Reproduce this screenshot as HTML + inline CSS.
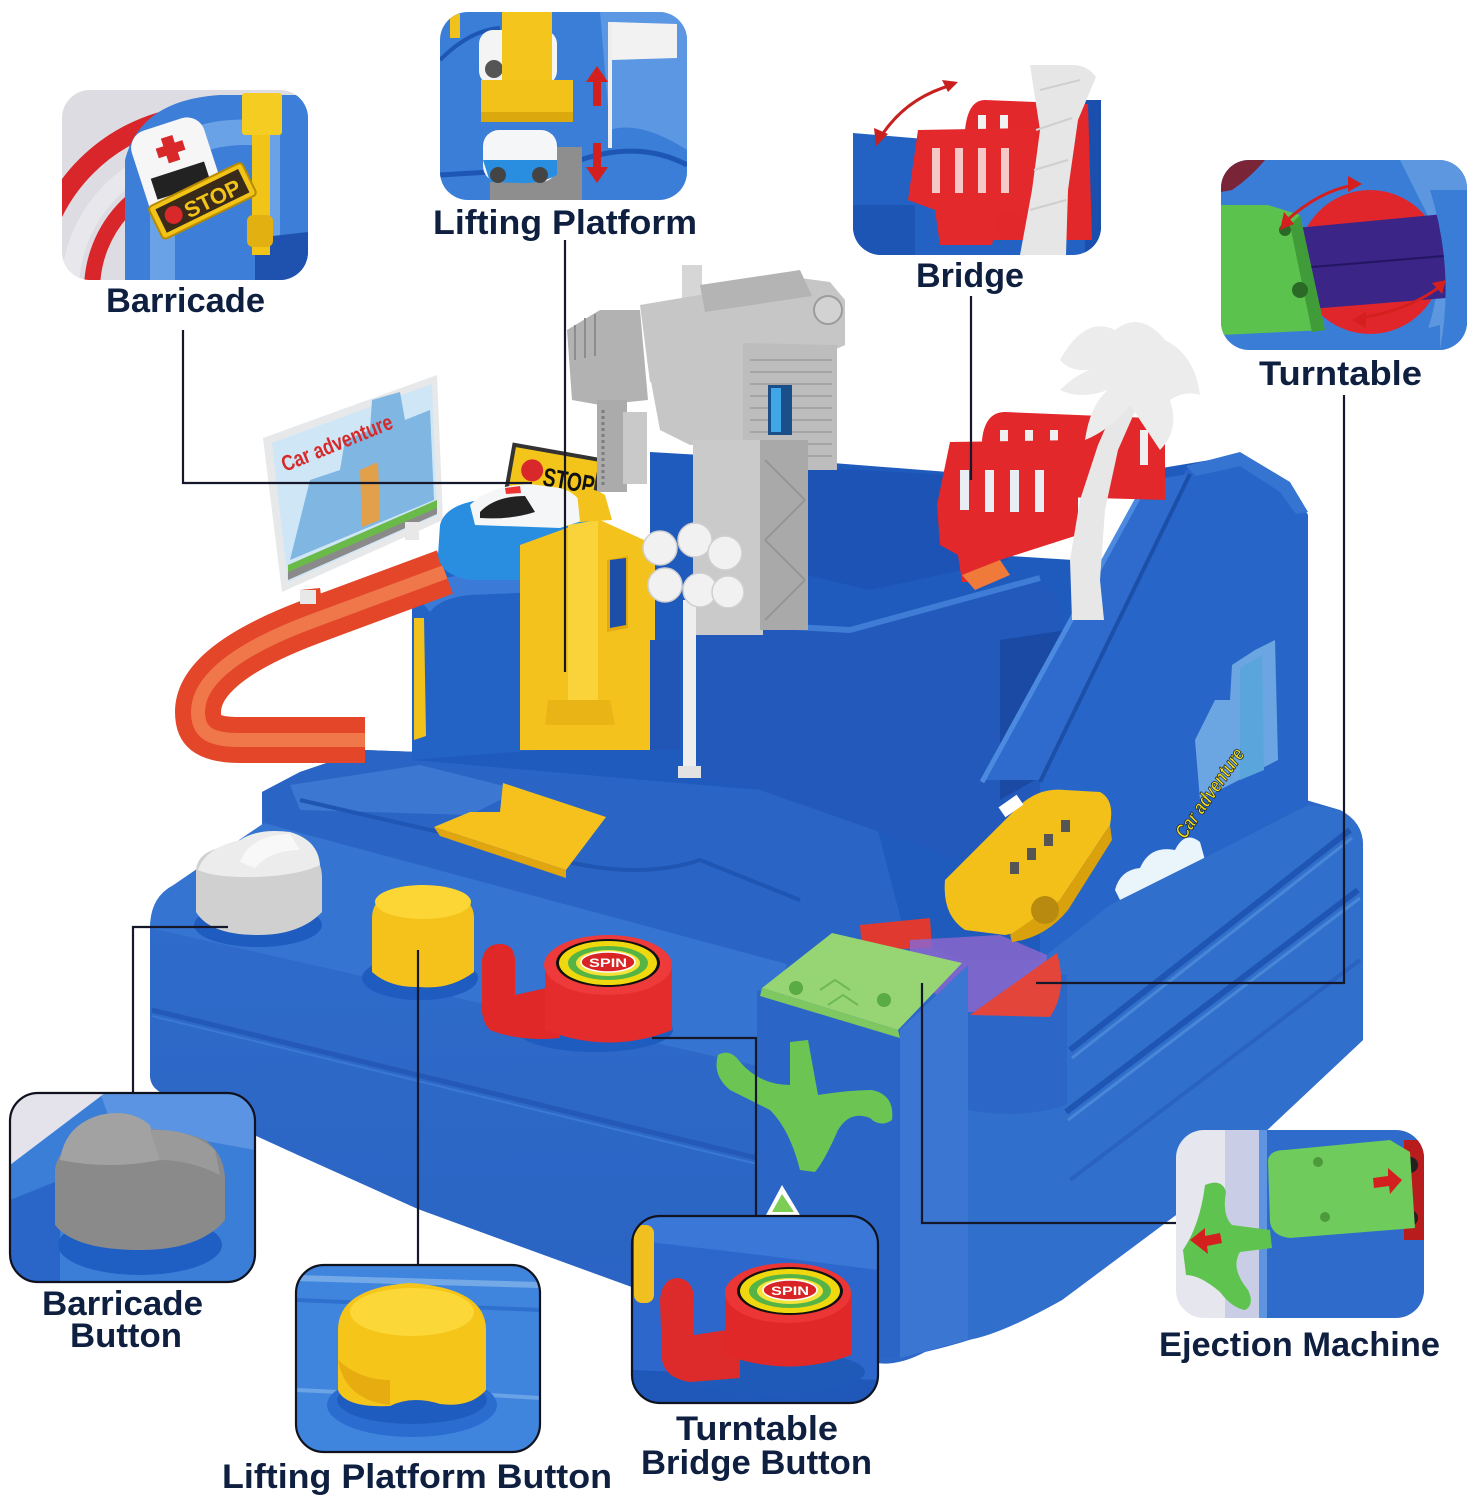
<!DOCTYPE html>
<html><head><meta charset="utf-8">
<style>
html,body{margin:0;padding:0;background:#fff;}
svg{display:block;}
.lb{font-family:"Liberation Sans",Arial,sans-serif;font-weight:bold;fill:#0e1f40;font-size:34px;}
</style></head><body>
<svg width="1480" height="1500" viewBox="0 0 1480 1500" xmlns="http://www.w3.org/2000/svg">
<defs>
<clipPath id="c1"><rect x="62" y="90" width="246" height="190" rx="28"/></clipPath>
<clipPath id="c2"><rect x="440" y="12" width="247" height="188" rx="28"/></clipPath>
<clipPath id="c3"><rect x="853" y="65" width="248" height="190" rx="28"/></clipPath>
<clipPath id="c4"><rect x="1221" y="160" width="246" height="190" rx="28"/></clipPath>
<clipPath id="c5"><rect x="10" y="1093" width="245" height="189" rx="28"/></clipPath>
<clipPath id="c6"><rect x="296" y="1265" width="244" height="187" rx="28"/></clipPath>
<clipPath id="c7"><rect x="632" y="1216" width="246" height="187" rx="28"/></clipPath>
<clipPath id="c8"><rect x="1176" y="1130" width="248" height="188" rx="28"/></clipPath>
<linearGradient id="gBase" x1="0" y1="0" x2="0" y2="1"><stop offset="0" stop-color="#2f6bca"/><stop offset="1" stop-color="#2a63c2"/></linearGradient>
</defs>

<!-- ================= MAIN TOY ================= -->
<!-- base silhouette -->
<path fill="#2d68c8" d="M150,930 Q150,898 172,886 L262,856 L262,792 L300,772 L365,750 L420,752 L760,790 L1306,800 L1340,810 Q1363,822 1363,845 L1363,1040 L1180,1212 L1062,1300 Q1000,1335 925,1352 Q895,1368 870,1362 L640,1290 L418,1209 L298,1155 L160,1092 Q150,1086 150,1075 Z"/>
<!-- front-left face -->
<path fill="url(#gBase)" d="M150,928 L757,1066 L757,1350 L640,1290 L418,1209 L298,1155 L160,1092 Q150,1086 150,1075 Z"/>
<path d="M152,1010 L757,1158" stroke="#2459b7" stroke-width="5" fill="none"/>
<path d="M152,1016 L757,1164" stroke="#3a78d4" stroke-width="2" fill="none"/>
<!-- ledge surface -->
<path fill="#3574d1" d="M150,928 Q150,898 172,886 L264,823 L787,964 L757,1066 Z"/>
<!-- middle tier -->
<path fill="#2a64c5" d="M262,792 L300,772 L365,750 L420,752 L760,790 L870,800 L905,935 L787,964 L264,823 Z"/>
<path fill="#4a86da" opacity="0.55" d="M290,785 L420,765 L520,790 L470,815 L300,810 Z"/>
<path d="M300,800 L560,860 Q640,880 700,860 L800,900" stroke="#1f56b3" stroke-width="4" fill="none"/>
<!-- yellow ramp piece -->
<path fill="#f6c11c" d="M503,783 L606,817 L566,870 L434,827 L470,812 L500,812 Z"/>
<path fill="#e0a50f" d="M434,827 L566,870 L566,878 L440,836 Z"/>

<!-- upper block -->
<path fill="#1f5abd" d="M412,760 L412,600 Q414,566 448,558 L560,552 L650,548 L650,452 L820,462 L1000,476 L1010,556 L1105,562 L1150,470 L1240,455 L1290,485 L1308,515 L1308,805 L1060,960 L960,960 L905,935 L870,800 L760,790 Z"/>
<!-- left cylinder of upper block -->
<path fill="#2463c6" d="M412,760 L412,600 Q414,566 448,558 L540,556 L540,750 Z"/>
<path fill="#3b7ad6" d="M420,600 Q430,575 470,575 L540,572 L540,592 L470,595 Q440,598 430,612 Z"/>
<path fill="#f2c21c" d="M414,618 L424,618 L426,736 L414,740 Z"/>
<!-- back wall -->
<path fill="#1d53b4" d="M807,467 L1000,478 L1008,560 L870,590 L807,575 Z"/>
<!-- well front wall -->
<path fill="#2259bb" d="M700,625 L850,632 L1040,582 L1060,600 L1040,800 L960,860 L760,790 L700,780 Z"/>
<path d="M700,622 L850,630 L1040,578" stroke="#3f7cd6" stroke-width="6" fill="none"/>
<path fill="#1a4aa3" d="M1000,640 L1100,625 L1070,760 L1000,800 Z"/>
<!-- right raised section -->
<path fill="#2766c8" d="M1186,470 L1240,455 L1290,485 L1308,515 L1308,805 L1200,860 L1110,905 L1040,960 L1040,780 Z"/>
<path fill="#2e6bcc" d="M1148,480 L1190,474 L1040,780 L982,780 Z"/>
<path d="M1148,480 L982,782" stroke="#4c8ae0" stroke-width="5" fill="none"/>
<path d="M1190,474 L1040,782" stroke="#1c4fa8" stroke-width="4" fill="none"/>
<path fill="#3574d0" d="M1186,466 L1240,452 L1290,482 L1308,512 L1296,514 L1280,492 L1240,466 L1196,476 Z"/>
<!-- decal -->
<path fill="#7db5e8" opacity="0.8" d="M1195,740 L1215,700 L1230,700 L1232,665 L1255,650 L1275,640 L1278,760 L1200,800 Z"/>
<path fill="#5aa6dc" d="M1240,668 L1262,655 L1264,770 L1240,780 Z"/>
<path fill="#eaf4fb" d="M1115,890 Q1120,870 1140,868 Q1150,845 1175,850 Q1185,830 1200,842 L1205,860 L1120,900 Z"/>
<text x="0" y="0" transform="translate(1185,840) rotate(-55)" font-family="Liberation Sans,Arial,sans-serif" font-weight="bold" font-style="italic" font-size="20" fill="#f4e21a" stroke="#222" stroke-width="0.8" textLength="105" lengthAdjust="spacingAndGlyphs">Car adventure</text>

<!-- base right face -->
<path fill="#3070cc" d="M1040,960 L1110,905 L1200,860 L1308,805 L1340,810 Q1363,822 1363,845 L1363,1040 L1180,1212 L1062,1300 Q1000,1335 968,1340 L968,1000 Z"/>
<path d="M1070,1050 L1350,830" stroke="#1f56b3" stroke-width="6" fill="none"/>
<path d="M1072,1058 L1352,838" stroke="#4a86d8" stroke-width="3" fill="none"/>
<path d="M1066,1112 L1358,890" stroke="#1f56b3" stroke-width="6" fill="none"/>
<path d="M1068,1120 L1360,898" stroke="#4a86d8" stroke-width="3" fill="none"/>
<path d="M1070,1180 L1360,960" stroke="#2a62c2" stroke-width="4" fill="none"/>
<!-- turntable cylinder -->
<path fill="#2c67c8" d="M968,975 L1067,975 L1067,1105 Q1020,1120 968,1110 Z"/>
<path fill="#e0392f" d="M860,925 L930,918 L932,948 L862,950 Z"/>
<path fill="#8a66cc" opacity="0.85" d="M910,940 L1000,935 L1047,955 L1040,1012 L960,1012 L910,975 Z"/>
<path fill="#e4453a" d="M970,1015 L1057,953 Q1068,990 1050,1017 Z"/>

<!-- front column -->
<path fill="#2b66c6" d="M757,990 L900,1030 L900,1358 L757,1352 Z"/>
<path fill="#3a76d2" d="M900,1030 L968,965 L968,1340 L900,1358 Z"/>
<path fill="#97d474" d="M762,988 L832,933 L962,963 L898,1030 Z"/>
<path fill="#7fc760" d="M762,988 L898,1030 L900,1038 L760,996 Z"/>
<circle cx="796" cy="988" r="7" fill="#5aaa45"/>
<circle cx="884" cy="1000" r="7" fill="#5aaa45"/>
<path d="M820,990 l15,-10 l15,10 M828,1005 l15,-10 l15,10" stroke="#6fb858" stroke-width="2" fill="none"/>
<!-- green hook -->
<path fill="#6cc553" d="M790,1042 L808,1040 L818,1095 Q850,1090 872,1090 Q895,1095 892,1120 Q880,1128 870,1118 Q850,1110 838,1130 Q825,1160 815,1172 L800,1170 Q790,1130 770,1110 Q740,1095 730,1090 Q712,1075 718,1055 Q730,1048 740,1062 Q760,1085 790,1085 Z"/>
<path fill="#fff" d="M766,1215 L782,1185 L800,1215 Z"/>
<path fill="#7dcc55" d="M772,1212 L782,1194 L794,1212 Z"/>

<!-- orange track -->
<path d="M445,572 L310,622 C225,654 198,685 198,712 C198,734 212,740 240,740 L365,740" stroke="#e4462a" stroke-width="46" fill="none" stroke-linejoin="round"/>
<path d="M445,572 L310,622 C225,654 198,685 198,712 C198,734 212,740 240,740 L365,740" stroke="#f0774a" stroke-width="14" fill="none"/>
<path fill="#e4462a" d="M300,590 L320,588 L322,602 L302,604 Z"/>

<!-- billboard -->
<path fill="#e6e8ea" d="M263,438 L437,375 L443,520 L282,592 Z"/>
<path fill="#cfe6f6" d="M272,443 L432,384 L437,515 L288,582 Z"/>
<path fill="#7fb6e2" d="M300,520 L310,480 L340,470 L345,440 L370,430 L372,400 L400,392 L405,420 L430,410 L434,500 L290,560 Z"/>
<path fill="#e3a04a" d="M360,470 L378,462 L380,520 L362,527 Z"/>
<path fill="#6aba4a" d="M288,565 L437,500 L437,512 L288,578 Z"/>
<path fill="#8a8a8a" d="M288,572 L437,508 L437,514 L288,580 Z"/>
<text x="0" y="0" transform="translate(285,472) rotate(-22)" font-family="Liberation Sans,Arial,sans-serif" font-weight="bold" font-size="22" fill="#d62a2a" textLength="118" lengthAdjust="spacingAndGlyphs">Car adventure</text>
<rect x="300" y="590" width="16" height="14" fill="#e8e8e8"/>
<rect x="405" y="522" width="14" height="18" fill="#e8e8e8"/>

<!-- stop sign -->
<g transform="rotate(10 553 473)">
<rect x="508" y="450" width="92" height="48" fill="#333"/>
<rect x="512" y="454" width="84" height="40" fill="#f3c51a"/>
<circle cx="532" cy="474" r="11" fill="#d8282a"/>
<text x="544" y="487" font-family="Liberation Sans,Arial,sans-serif" font-weight="bold" font-size="26" fill="#111" textLength="52" lengthAdjust="spacingAndGlyphs">STOP</text>
</g>
<!-- police car -->
<path fill="#2a8ee0" d="M440,525 Q445,505 480,500 L560,495 Q590,500 592,530 L590,560 Q585,580 565,580 L470,580 Q440,575 438,555 Z"/>
<path fill="#f4f6f8" d="M470,505 Q490,485 530,484 L560,488 Q585,495 585,520 L560,528 L475,525 Z"/>
<path fill="#222" d="M480,512 Q495,496 525,496 L535,512 Q510,520 480,518 Z"/>
<path fill="#e33" d="M505,488 L520,486 L521,493 L506,494 Z"/>
<circle cx="548" cy="556" r="18" fill="#333"/><circle cx="548" cy="556" r="10" fill="#ccc"/>
<circle cx="578" cy="545" r="14" fill="#333"/>

<!-- crane -->
<rect x="682" y="265" width="20" height="40" fill="#d6d6d6"/>
<path fill="#c6c6c6" d="M640,305 L800,278 L830,282 L845,300 L845,345 L830,352 L650,382 Z"/>
<path fill="#b4b4b4" d="M700,285 L800,270 L812,296 L705,312 Z"/>
<circle cx="828" cy="310" r="14" fill="#d2d2d2" stroke="#9c9c9c" stroke-width="2"/>
<path fill="#b2b2b2" d="M567,330 L600,310 L640,310 L648,400 L600,405 L572,400 Z"/>
<path d="M575,325 l0,35 M585,318 l0,40 M595,314 l0,42" stroke="#8d8d8d" stroke-width="2"/>
<rect x="597" y="400" width="30" height="92" fill="#ababab"/>
<path d="M603,410 l0,75" stroke="#7d7d7d" stroke-width="3" stroke-dasharray="3 3"/>
<rect x="623" y="412" width="24" height="72" fill="#c9c9c9"/>
<path fill="#c6c6c6" d="M647,360 L745,345 L745,440 L690,445 L660,430 Z"/>
<path fill="#bdbdbd" d="M743,343 L837,345 L837,470 L743,470 Z"/>
<path d="M750,360 H832 M750,372 H832 M750,384 H832 M750,396 H832 M750,408 H832 M750,420 H832 M750,432 H832 M750,444 H832 M750,456 H832" stroke="#a4a4a4" stroke-width="2"/>
<rect x="768" y="385" width="24" height="50" fill="#1a4f8a"/>
<rect x="771" y="388" width="10" height="44" fill="#3fa6e8"/>
<rect x="693" y="440" width="70" height="195" fill="#cacaca"/>
<rect x="760" y="440" width="48" height="190" fill="#a9a9a9"/>
<path d="M765,460 L805,500 M805,500 L765,540 M765,540 L805,580 M805,580 L765,620" stroke="#959595" stroke-width="2" fill="none"/>

<!-- yellow lift -->
<path fill="#f4c21c" d="M520,545 L575,525 L600,520 L655,545 L655,750 L520,750 Z"/>
<path fill="#e2a912" d="M607,560 L628,556 L628,628 L607,632 Z"/>
<path fill="#1d4fa8" d="M610,560 L626,558 L626,625 L610,628 Z"/>
<path fill="#2256b6" d="M650,640 L680,640 L680,750 L650,750 Z"/>
<path fill="#fad23a" d="M568,525 L598,520 L598,720 L568,720 Z"/>
<path fill="#e9b416" d="M548,700 L610,700 L615,725 L545,725 Z"/>
<path fill="#f4c21c" d="M577,492 Q590,485 605,495 L612,520 L580,522 Z"/>
<!-- lamp -->
<rect x="683" y="600" width="13" height="176" fill="#eeeeee"/>
<rect x="678" y="766" width="23" height="12" fill="#e2e2e2"/>
<g fill="#f1f1f1" stroke="#cfcfcf" stroke-width="1.5">
<circle cx="660" cy="548" r="17"/><circle cx="695" cy="540" r="17"/><circle cx="725" cy="553" r="17"/>
<circle cx="665" cy="585" r="17"/><circle cx="700" cy="590" r="17"/><circle cx="728" cy="592" r="16"/>
</g>

<!-- red bridge -->
<path fill="#e2282b" d="M982,440 Q985,412 1005,412 L1150,418 Q1165,420 1165,440 L1165,500 L990,495 Z"/>
<g fill="#f0f0f0"><rect x="1000" y="430" width="8" height="35"/><rect x="1025" y="430" width="8" height="35"/><rect x="1050" y="430" width="8" height="35"/><rect x="1140" y="430" width="8" height="35"/></g>
<path fill="#e2282b" d="M937,505 L950,442 L1078,440 L1078,535 L1000,560 L985,582 L962,582 L958,555 L940,545 Z"/>
<g fill="#e9eef5"><rect x="960" y="470" width="9" height="40"/><rect x="985" y="470" width="9" height="42"/><rect x="1010" y="470" width="9" height="42"/><rect x="1035" y="470" width="9" height="42"/></g>
<path fill="#f07a3a" d="M962,575 L1000,560 L1010,575 L975,590 Z"/>
<!-- palm tree -->
<path fill="#e7e7e7" d="M1072,620 L1070,560 L1080,500 L1098,445 L1120,395 L1140,400 L1118,450 L1105,510 L1100,580 L1104,620 Z"/>
<path fill="#ececec" d="M1060,360 Q1085,315 1115,330 Q1140,310 1165,340 Q1195,355 1200,395 Q1185,390 1170,400 Q1180,430 1160,450 Q1140,420 1130,405 Q1110,430 1085,440 Q1090,405 1108,390 Q1080,400 1060,390 Q1075,375 1090,370 Q1070,372 1060,360 Z"/>

<!-- bus -->
<path fill="#f3c01a" d="M945,880 L1020,805 Q1040,787 1065,790 L1100,792 Q1115,800 1110,825 L1060,900 Q1040,930 1005,935 L965,930 Q942,915 945,880 Z"/>
<path fill="#d9a10c" d="M1010,935 L1060,900 L1110,825 L1112,840 L1068,910 Q1045,938 1012,942 Z"/>
<rect x="1000" y="800" width="22" height="12" fill="#fff" transform="rotate(-35 1011 806)"/>
<g fill="#555"><rect x="1010" y="862" width="9" height="12"/><rect x="1027" y="848" width="9" height="12"/><rect x="1044" y="834" width="9" height="12"/><rect x="1061" y="820" width="9" height="12"/></g>
<circle cx="1045" cy="910" r="14" fill="#b88a10"/>

<!-- knobs -->
<ellipse cx="258" cy="925" rx="64" ry="22" fill="#1f5cbf"/>
<path fill="#d0d0d0" d="M196,872 Q196,850 230,846 L290,846 Q322,850 322,878 L322,912 Q300,935 258,935 Q210,935 196,912 Z"/>
<path fill="#ececec" d="M198,870 Q205,848 240,840 Q258,828 290,832 Q318,840 320,865 Q300,875 258,877 Q215,878 198,870 Z"/>
<path fill="#f8f8f8" d="M240,862 Q250,835 290,834 L300,850 Q270,850 255,868 Z"/>

<ellipse cx="420" cy="978" rx="58" ry="22" fill="#1f5cbf"/>
<path fill="#f4c21a" d="M372,918 Q372,890 420,885 Q474,890 474,918 L474,972 Q450,990 420,987 Q390,988 372,972 Z"/>
<ellipse cx="423" cy="902" rx="48" ry="17" fill="#fbd634"/>

<ellipse cx="595" cy="1030" rx="78" ry="22" fill="#1f5cbf"/>
<path fill="#e02828" d="M482,960 Q485,944 500,944 Q515,944 515,962 L515,995 L560,985 L560,1038 Q520,1042 490,1030 Q480,1020 482,1000 Z"/>
<path fill="#e42c2c" d="M545,965 L672,965 L672,1030 Q610,1055 545,1030 Z"/>
<ellipse cx="608" cy="965" rx="64" ry="30" fill="#ee3a3a"/>
<ellipse cx="608" cy="963" rx="52" ry="24" fill="#111"/>
<ellipse cx="608" cy="963" rx="49" ry="22" fill="#f0d80e"/>
<ellipse cx="608" cy="963" rx="40" ry="17" fill="#56b445"/>
<ellipse cx="608" cy="963" rx="32" ry="13" fill="#f3e33a"/>
<ellipse cx="608" cy="962" rx="27" ry="10" fill="#d82424" stroke="#fff" stroke-width="1.5"/>
<text x="589" y="967" font-family="Liberation Sans,Arial,sans-serif" font-weight="bold" font-size="12" fill="#fff" textLength="38" lengthAdjust="spacingAndGlyphs">SPIN</text>

<!-- ================= CONNECTOR LINES ================= -->
<g stroke="#14182a" stroke-width="2.2" fill="none">
<path d="M183,330 V483 H532"/>
<path d="M565,240 V672"/>
<path d="M971,296 V480"/>
<path d="M1344,395 V983 H1036"/>
<path d="M228,927 H133 V1093"/>
<path d="M418,950 V1265"/>
<path d="M652,1038 H756 V1216"/>
<path d="M922,983 V1223 H1176"/>
</g>

<!-- ================= INSETS ================= -->
<!-- Barricade -->
<g clip-path="url(#c1)">
<rect x="62" y="90" width="246" height="190" fill="#dcdce2"/>
<circle cx="210" cy="290" r="175" fill="none" stroke="#d8262b" stroke-width="20"/>
<circle cx="210" cy="290" r="140" fill="none" stroke="#e8e8ec" stroke-width="18"/>
<circle cx="210" cy="290" r="118" fill="none" stroke="#d8262b" stroke-width="16"/>
<path fill="#3d7fd8" d="M125,280 L125,160 Q140,100 220,95 L308,95 L308,280 Z"/>
<path fill="#69a2e6" d="M150,280 L150,170 Q165,125 230,120 L280,118 L280,280 Z"/>
<path fill="#3d7fd8" d="M175,280 L175,180 Q185,148 240,145 L260,145 L260,280 Z"/>
<path fill="#1e52ae" d="M255,238 L308,232 L308,280 L255,280 Z"/>
<g transform="rotate(-18 178 172)">
<rect x="140" y="122" width="76" height="102" rx="18" fill="#f6f6f6"/>
<rect x="150" y="170" width="56" height="22" fill="#222"/>
<path d="M172,135 h12 v8 h8 v10 h-8 v8 h-12 v-8 h-8 v-10 h8 z" fill="#d8282a"/>
</g>
<rect x="252" y="130" width="18" height="125" fill="#f2c418"/>
<rect x="242" y="93" width="40" height="42" rx="3" fill="#f5cc22"/>
<rect x="247" y="215" width="26" height="32" rx="6" fill="#e2b010"/>
<g transform="rotate(-26 202 200)">
<rect x="150" y="183" width="104" height="36" rx="4" fill="#f2c418" stroke="#b88a00" stroke-width="2"/>
<rect x="156" y="188" width="92" height="26" fill="#3a2a1a"/>
<circle cx="170" cy="201" r="9" fill="#d8282a"/>
<text x="182" y="211" font-family="Liberation Sans,Arial,sans-serif" font-weight="bold" font-size="22" fill="#f2c418" textLength="60" lengthAdjust="spacingAndGlyphs">STOP</text>
</g>
</g>

<!-- Lifting Platform -->
<g clip-path="url(#c2)">
<rect x="440" y="12" width="247" height="188" fill="#3a7ed7"/>
<path fill="#5b97e2" d="M600,12 L687,12 L687,150 Q640,120 610,130 Z"/>
<path d="M440,60 Q470,30 500,28" stroke="#1e56b5" stroke-width="4" fill="none"/>
<path d="M580,160 Q640,140 687,165" stroke="#1e56b5" stroke-width="5" fill="none"/>
<path d="M440,175 L490,172" stroke="#1e56b5" stroke-width="5"/>
<rect x="450" y="14" width="10" height="24" fill="#f2c21c"/>
<rect x="479" y="30" width="78" height="55" rx="14" fill="#f4f4f4"/>
<rect x="485" y="60" width="18" height="18" rx="9" fill="#555"/>
<rect x="502" y="12" width="50" height="90" fill="#f4c51c"/>
<rect x="481" y="80" width="92" height="42" fill="#f2c21a"/>
<rect x="481" y="112" width="92" height="10" fill="#dba80e"/>
<rect x="490" y="147" width="92" height="53" fill="#8e8e8e"/>
<rect x="483" y="130" width="74" height="52" rx="16" fill="#f4f6f8"/>
<path fill="#2a8ee0" d="M483,160 L557,160 L557,175 Q540,184 520,183 L490,182 Z"/>
<circle cx="498" cy="175" r="8" fill="#444"/><circle cx="540" cy="175" r="8" fill="#444"/>
<path fill="#d41f1f" d="M597,66 L608,82 L601,82 L601,106 L593,106 L593,82 L586,82 Z"/>
<path fill="#d41f1f" d="M597,183 L608,167 L601,167 L601,143 L593,143 L593,167 L586,167 Z"/>
<rect x="608" y="22" width="4" height="126" fill="#eeeeee"/>
<path fill="#f2f2f2" d="M612,22 L677,24 L677,58 L612,60 Z"/>
</g>

<!-- Bridge -->
<g clip-path="url(#c3)">
<rect x="853" y="65" width="248" height="190" fill="#ffffff"/>
<path fill="#2361c2" d="M853,133 L960,142 L1101,142 L1101,255 L853,255 Z"/>
<path fill="#1c55b4" d="M853,205 L915,205 L915,255 L853,255 Z"/>
<path fill="#1b4fae" d="M1085,100 L1101,100 L1101,255 L1085,255 Z"/>
<path fill="#e2282b" d="M965,130 Q968,100 985,100 L1088,104 L1092,240 L970,240 Z"/>
<g fill="#f3f3f3"><rect x="978" y="115" width="8" height="40"/><rect x="1000" y="115" width="8" height="40"/><rect x="1060" y="115" width="8" height="40"/></g>
<path fill="#e3292c" d="M908,200 L918,130 L1035,128 L1035,205 L998,215 L992,245 L940,245 L935,210 Z"/>
<g fill="#f6c8c8"><rect x="932" y="148" width="8" height="45"/><rect x="955" y="148" width="8" height="45"/><rect x="978" y="148" width="8" height="45"/><rect x="1001" y="148" width="8" height="45"/></g>
<path fill="#e6e6e6" d="M1020,255 L1032,190 L1040,130 L1030,65 L1101,65 L1078,120 L1068,190 L1066,255 Z"/>
<path d="M1040,90 L1080,80 M1036,130 L1072,118 M1034,170 L1068,160 M1030,210 L1066,200" stroke="#cfcfcf" stroke-width="2"/>
<path d="M880,138 Q905,98 952,85" stroke="#c81f1f" stroke-width="3" fill="none"/>
<path fill="#c81f1f" d="M876,146 L874,128 L888,134 Z"/>
<path fill="#c81f1f" d="M958,82 L942,80 L948,92 Z"/>
</g>

<!-- Turntable -->
<g clip-path="url(#c4)">
<rect x="1221" y="160" width="246" height="190" fill="#3a7dd6"/>
<path fill="#5c97e0" d="M1400,160 L1467,160 L1467,350 L1420,350 Q1450,280 1430,220 Z"/>
<path fill="#7a2438" d="M1221,160 L1265,160 Q1250,178 1232,190 L1221,192 Z"/>
<circle cx="1370" cy="262" r="72" fill="#e0262a"/>
<path fill="#3b2587" d="M1296,228 L1444,214 L1446,298 L1298,310 Z"/>
<path d="M1300,268 L1444,256" stroke="#241560" stroke-width="2"/>
<path fill="#3a7dd6" d="M1430,190 L1467,190 L1467,350 L1440,350 Q1455,270 1430,190 Z"/>
<path fill="#3a7dd6" d="M1300,330 Q1370,345 1440,325 L1440,350 L1300,350 Z"/>
<path fill="#5cc24e" d="M1221,205 L1268,205 L1300,215 L1325,330 L1221,335 Z"/>
<path fill="#3f9c38" d="M1300,215 L1325,330 L1312,332 L1290,225 Z"/>
<circle cx="1285" cy="230" r="6" fill="#2b6a26"/>
<circle cx="1300" cy="290" r="8" fill="#2b6a26"/>
<path d="M1285,222 Q1320,190 1355,185" stroke="#d41f1f" stroke-width="3" fill="none"/>
<path fill="#d41f1f" d="M1280,230 L1284,212 L1294,224 Z"/>
<path fill="#d41f1f" d="M1362,184 L1348,176 L1348,192 Z"/>
<path d="M1360,318 Q1410,310 1442,285" stroke="#d41f1f" stroke-width="3" fill="none"/>
<path fill="#d41f1f" d="M1352,320 L1366,312 L1366,328 Z"/>
<path fill="#d41f1f" d="M1446,280 L1432,283 L1442,294 Z"/>
</g>

<!-- Barricade Button -->
<g clip-path="url(#c5)">
<rect x="10" y="1093" width="245" height="189" fill="#3b7ed8"/>
<path fill="#5a94e2" d="M100,1093 L255,1093 L255,1150 L200,1140 L110,1120 Z"/>
<path fill="#e4e3ec" d="M10,1093 L105,1093 L10,1165 Z"/>
<path fill="#2a66c8" d="M10,1200 L60,1180 L60,1282 L10,1282 Z"/>
<ellipse cx="140" cy="1245" rx="82" ry="30" fill="#1f5fc4"/>
<path fill="#8a8a8a" d="M55,1170 Q58,1140 110,1130 Q170,1125 205,1140 Q225,1155 225,1180 L225,1220 Q200,1250 140,1250 Q75,1250 55,1225 Z"/>
<path fill="#a2a2a2" d="M60,1160 Q65,1125 100,1115 Q130,1108 150,1125 L160,1160 Q110,1170 60,1160 Z"/>
<path fill="#9a9a9a" d="M150,1130 Q190,1128 215,1150 L220,1175 Q190,1160 160,1160 Z"/>
</g>
<rect x="10" y="1093" width="245" height="189" rx="28" fill="none" stroke="#10131f" stroke-width="2.2"/>

<!-- Lifting Platform Button -->
<g clip-path="url(#c6)">
<rect x="296" y="1265" width="244" height="187" fill="#3f85dd"/>
<path d="M296,1278 L540,1285" stroke="#74a9e8" stroke-width="6"/>
<path d="M296,1300 L540,1310" stroke="#2e70cd" stroke-width="4"/>
<path d="M296,1390 L340,1392 M490,1395 L540,1398" stroke="#6aa3e6" stroke-width="4"/>
<ellipse cx="412" cy="1405" rx="85" ry="32" fill="#2a6ccf"/>
<ellipse cx="412" cy="1400" rx="75" ry="24" fill="#1f5cc0"/>
<path fill="#f5c51a" d="M338,1330 Q338,1288 410,1283 Q486,1288 486,1330 L486,1390 Q470,1408 440,1404 Q412,1395 390,1406 Q345,1408 338,1390 Z"/>
<ellipse cx="412" cy="1312" rx="62" ry="24" fill="#fbd838"/>
<path fill="#e6ac10" d="M338,1360 Q345,1400 390,1405 L390,1380 Q360,1380 338,1360 Z"/>
</g>
<rect x="296" y="1265" width="244" height="187" rx="28" fill="none" stroke="#10131f" stroke-width="2.2"/>

<!-- Turntable Bridge Button -->
<g clip-path="url(#c7)">
<rect x="632" y="1216" width="246" height="187" fill="#2d67cb"/>
<path fill="#3a77d6" d="M632,1216 L878,1216 L878,1270 L760,1255 L632,1240 Z"/>
<path fill="#1f58b8" d="M632,1370 L878,1380 L878,1403 L632,1403 Z"/>
<rect x="634" y="1225" width="20" height="78" rx="8" fill="#f0c020"/>
<ellipse cx="770" cy="1372" rx="95" ry="22" fill="#1f5ab8"/>
<path fill="#dd2a2a" d="M660,1300 Q662,1278 678,1278 Q694,1280 694,1300 L694,1335 L740,1328 L740,1378 L690,1382 Q665,1378 662,1360 Z"/>
<path fill="#e02828" d="M725,1293 L851,1293 L851,1355 Q790,1378 725,1355 Z"/>
<ellipse cx="788" cy="1293" rx="63" ry="30" fill="#ec3535"/>
<ellipse cx="790" cy="1291" rx="53" ry="24" fill="#111"/>
<ellipse cx="790" cy="1291" rx="50" ry="22" fill="#f0d80e"/>
<ellipse cx="790" cy="1291" rx="41" ry="17" fill="#56b445"/>
<ellipse cx="790" cy="1291" rx="33" ry="13" fill="#f3e33a"/>
<ellipse cx="790" cy="1290" rx="27" ry="10" fill="#d82424" stroke="#fff" stroke-width="1.5"/>
<text x="771" y="1295" font-family="Liberation Sans,Arial,sans-serif" font-weight="bold" font-size="12" fill="#fff" textLength="38" lengthAdjust="spacingAndGlyphs">SPIN</text>
</g>
<rect x="632" y="1216" width="246" height="187" rx="28" fill="none" stroke="#10131f" stroke-width="2.2"/>

<!-- Ejection Machine -->
<g clip-path="url(#c8)">
<rect x="1176" y="1130" width="248" height="188" fill="#e6e6ee"/>
<rect x="1225" y="1130" width="36" height="188" fill="#c9cde6"/>
<rect x="1259" y="1130" width="165" height="188" fill="#2e6bcb"/>
<rect x="1259" y="1130" width="8" height="188" fill="#5f95e0"/>
<rect x="1404" y="1140" width="20" height="100" fill="#b81c1c"/>
<circle cx="1410" cy="1165" r="8" fill="#222"/>
<circle cx="1410" cy="1218" r="8" fill="#222"/>
<path fill="#6fcb5b" d="M1268,1160 Q1270,1150 1285,1150 L1390,1140 L1410,1152 L1415,1228 L1290,1238 Q1272,1236 1270,1222 Z"/>
<circle cx="1318" cy="1162" r="5" fill="#4d9a3d"/>
<circle cx="1325" cy="1217" r="5" fill="#4d9a3d"/>
<path fill="#5fc44f" d="M1205,1185 Q1222,1178 1226,1192 Q1222,1215 1232,1225 L1270,1230 L1272,1248 L1240,1252 Q1230,1268 1248,1290 Q1255,1305 1245,1310 Q1232,1308 1220,1292 Q1200,1275 1186,1275 L1183,1250 Q1200,1225 1205,1185 Z"/>
<path fill="#d41f1f" d="M1190,1240 L1205,1228 L1205,1236 L1220,1233 L1222,1243 L1207,1246 L1208,1254 Z"/>
<path fill="#d41f1f" d="M1402,1180 L1388,1168 L1388,1176 L1373,1178 L1374,1188 L1389,1186 L1390,1194 Z"/>
</g>

<!-- ================= LABELS ================= -->
<text class="lb" x="106" y="312" textLength="159" lengthAdjust="spacingAndGlyphs">Barricade</text>
<text class="lb" x="433" y="234" textLength="264" lengthAdjust="spacingAndGlyphs">Lifting Platform</text>
<text class="lb" x="916" y="287" textLength="108" lengthAdjust="spacingAndGlyphs">Bridge</text>
<text class="lb" x="1259" y="385" textLength="163" lengthAdjust="spacingAndGlyphs">Turntable</text>
<text class="lb" x="42" y="1315" textLength="161" lengthAdjust="spacingAndGlyphs">Barricade</text>
<text class="lb" x="70" y="1347" textLength="112" lengthAdjust="spacingAndGlyphs">Button</text>
<text class="lb" x="222" y="1488" textLength="390" lengthAdjust="spacingAndGlyphs">Lifting Platform Button</text>
<text class="lb" x="676" y="1440" textLength="162" lengthAdjust="spacingAndGlyphs">Turntable</text>
<text class="lb" x="641" y="1474" textLength="231" lengthAdjust="spacingAndGlyphs">Bridge Button</text>
<text class="lb" x="1159" y="1356" textLength="281" lengthAdjust="spacingAndGlyphs">Ejection Machine</text>
</svg>
</body></html>
